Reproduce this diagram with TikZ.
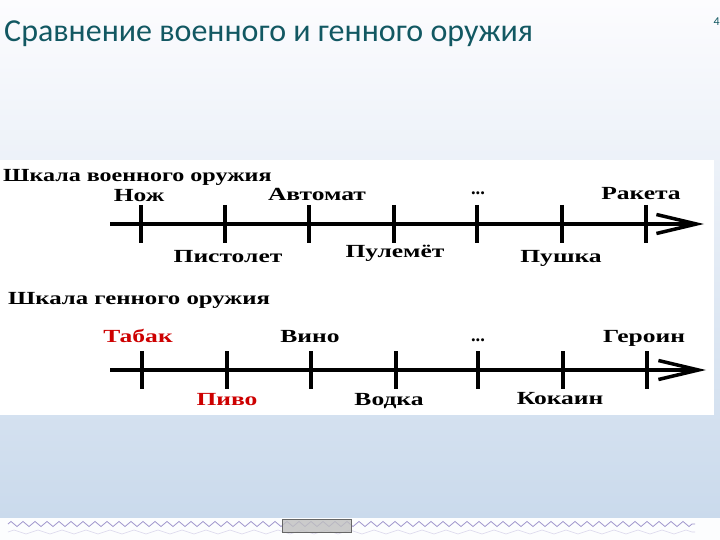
\documentclass[tikz,border=0pt]{standalone}
\usepackage{fontspec}
\usepackage{graphicx}
\setmainfont{Liberation Serif}
\newfontfamily\titlefont{Carlito}
\usetikzlibrary{arrows.meta,decorations.pathmorphing}
\definecolor{titleteal}{RGB}{18,88,98}
\definecolor{slidetop}{RGB}{252,252,254}
\definecolor{slidebot}{RGB}{202,218,236}
\definecolor{waveblue}{RGB}{160,150,205}
\definecolor{labred}{RGB}{205,0,0}
\newcommand{\wide}[1]{\scalebox{1.38}[1]{#1}}
\begin{document}
\begin{tikzpicture}[x=1pt,y=-1pt,
    axis/.style={line width=3.5pt, -{Straight Barb[length=40pt,width=19pt,line width=3.5pt]}},
    tickmark/.style={line width=4.5pt},
    lab/.style={font=\bfseries\fontsize{18.5}{18.5}\selectfont, anchor=base, inner sep=0pt},
    head/.style={font=\bfseries\fontsize{18.5}{18.5}\selectfont, anchor=base west, inner sep=0pt}]
  \useasboundingbox (0,0) rectangle (720,540);

  % slide background
  \shade[top color=slidetop, bottom color=slidebot] (0,0) rectangle (720,518);
  \fill[white!95!slidebot] (0,518) rectangle (720,540);
  \draw[waveblue, line width=0.8pt, decorate, decoration={zigzag, segment length=12pt, amplitude=2.5pt}] (8,524) -- (695,524);
  \draw[waveblue!40, line width=0.6pt, decorate, decoration={zigzag, segment length=24pt, amplitude=2pt}] (8,532) -- (695,532);
  \draw[black!60, fill=black!25, fill opacity=0.8] (282,519) rectangle (351,532);

  % title
  \node[anchor=base west, inner sep=0pt, text=titleteal, font=\titlefont\fontsize{32}{32}\selectfont] (title) at (4,42) {Сравнение военного и генного оружия};
  \node[anchor=base east, inner sep=0pt, text=titleteal, font=\titlefont\fontsize{12}{12}\selectfont] (pagenum) at (720,26) {4};

  % picture area
  \fill[white] (0,160) rectangle (714,415);

  % military scale
  \node[head] (milhead) at (3,182) {\scalebox{1.3}[1]{Шкала военного оружия}};
  \coordinate (milstart) at (110,224);
  \coordinate (milend) at (704,224);
  \draw[axis] (milstart) -- (milend);
  \foreach \x [count=\i] in {141,225,309,394,477,562,646} {
    \coordinate (w\i) at (\x,224);
    \draw[tickmark] ([yshift=19pt]w\i) -- ([yshift=-19pt]w\i);
  }
  \node[lab] (knife) at (139,202) {\wide{Нож}};
  \node[lab] (rifle) at (317,201) {\wide{Автомат}};
  \node[lab] (wdots) at (478,195) {...};
  \node[lab] (rocket) at (641,200) {\wide{Ракета}};
  \node[lab] (pistol) at (228,262) {\wide{Пистолет}};
  \node[lab] (mgun) at (395,258) {\wide{Пулемёт}};
  \node[lab] (cannon) at (561,262) {\wide{Пушка}};

  % gene scale
  \node[head] (genhead) at (8,304) {\scalebox{1.34}[1]{Шкала генного оружия}};
  \coordinate (genstart) at (110,370);
  \coordinate (genend) at (706,370);
  \draw[axis] (genstart) -- (genend);
  \foreach \x [count=\i] in {142,227,311,396,478,563,647} {
    \coordinate (g\i) at (\x,370);
    \draw[tickmark] ([yshift=19pt]g\i) -- ([yshift=-19pt]g\i);
  }
  \node[lab, text=labred] (tobacco) at (138,342) {\wide{Табак}};
  \node[lab] (wine) at (310,342) {\wide{Вино}};
  \node[lab] (gdots) at (478,341) {...};
  \node[lab] (heroin) at (644,342) {\wide{Героин}};
  \node[lab, text=labred] (beer) at (227,405) {\wide{Пиво}};
  \node[lab] (vodka) at (389,405) {\wide{Водка}};
  \node[lab] (cocaine) at (560,404) {\wide{Кокаин}};
\end{tikzpicture}
\end{document}
